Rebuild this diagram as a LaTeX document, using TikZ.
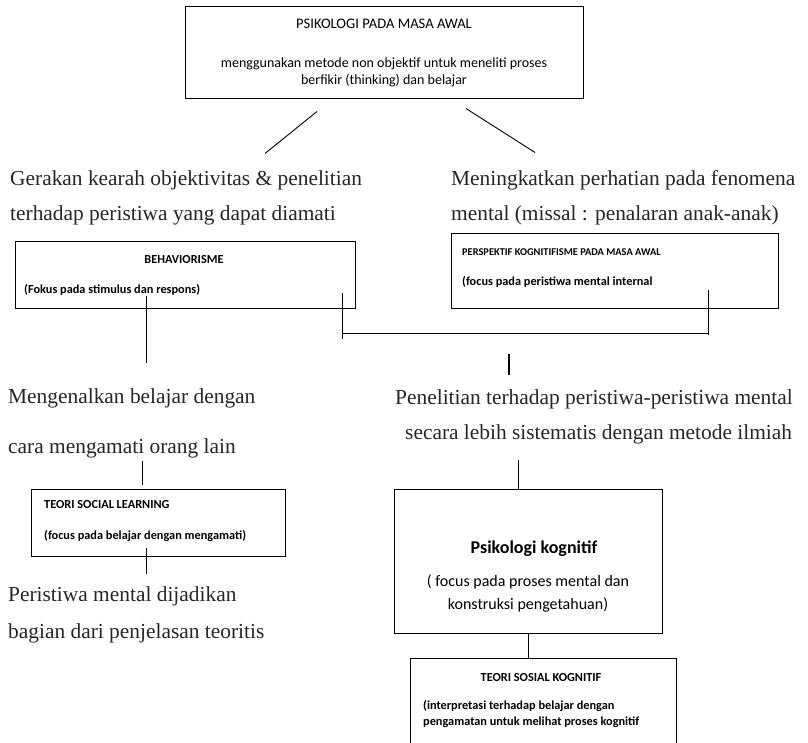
\documentclass[tikz,border=0pt]{standalone}
\usepackage{fontspec}
\setmainfont{Carlito}
\newfontfamily\txtfont{Liberation Serif}
\usetikzlibrary{positioning, calc}

\begin{document}
\begin{tikzpicture}[
    x=1pt, y=-1pt,
    every node/.style={inner sep=0pt},
    box/.style  ={draw, line width=1pt},
    head/.style ={font=\fontsize{12.3}{15}\selectfont\bfseries},
    note/.style ={font=\fontsize{12.3}{15.5}\selectfont\bfseries, align=left, anchor=base west},
    body/.style ={font=\fontsize{14}{17}\selectfont, align=center},
    txt/.style  ={font=\txtfont\fontsize{21.4}{35}\selectfont, text=black!85,
                  align=left, anchor=base west},
    link/.style ={line width=0.9pt},
]
\clip (0,0) rectangle (808,743);

% awal
\node[box, body, minimum width=398, minimum height=92] (awal) at (384,53)
   {{\fontsize{14.6}{17}\selectfont PSIKOLOGI PADA MASA AWAL}\\[22pt]
    menggunakan metode non objektif untuk meneliti proses\\
    berfikir (thinking) dan belajar};
% base = baseline of the last line
\node[txt] (gerak) at (10,221)
   {Gerakan kearah objektivitas \& penelitian\\terhadap peristiwa yang dapat diamati};
\node[txt] (mening) at (451,221)
   {Meningkatkan perhatian pada fenomena\\mental (missal : penalaran anak-anak)};
\draw[link] ([shift={(-67,12)}]awal.south) -- ++(-52,42);
\draw[link] ([shift={(82,9)}]awal.south) -- ++(69,44);

% behaviorisme dan kognitifisme awal
\node[box, minimum width=340, minimum height=66] (beh) at (185,275) {};
\node[head] (behT) at (184,260) {BEHAVIORISME};
\node[note] (behN) at (24,293) {(Fokus pada stimulus dan respons)};
\node[box, minimum width=327, minimum height=74] (persp) at (614.5,271) {};
\node[note, font=\fontsize{10.4}{13}\selectfont\bfseries] (perT) at (462,256)
   {PERSPEKTIF KOGNITIFISME PADA MASA AWAL};
\node[note] (perN) at (462,285) {(focus pada peristiwa mental internal};

% kiri: social learning
\node[txt] (kenal) at (8,453)
   {Mengenalkan belajar dengan\\[15pt]cara mengamati orang lain};
\node[box, minimum width=254, minimum height=67] (sl) at (158,522.5) {};
\node[note] (slT) at (44,508) {TEORI SOCIAL LEARNING};
\node[note] (slN) at (44,539) {(focus pada belajar dengan mengamati)};
\node[txt] (peri) at (8,638)
   {Peristiwa mental dijadikan\\[2pt]bagian dari penjelasan teoritis};

% kanan: psikologi kognitif
\node[txt] (teliti) at (395,439)
   {Penelitian terhadap peristiwa-peristiwa mental\\\hspace*{10pt}secara lebih sistematis dengan metode ilmiah};
\node[box, minimum width=268, minimum height=144] (kog) at (528,561) {};
\node[font=\fontsize{18}{22}\selectfont\bfseries, anchor=base] (kogT) at (534,553) {Psikologi kognitif};
\node[font=\fontsize{16}{23}\selectfont, align=center, anchor=base] (kogN) at (528,609)
   {( focus pada proses mental dan\\konstruksi pengetahuan)};
\node[box, minimum width=266, minimum height=102] (sk) at (543,709) {};
\node[head, anchor=base] (skT) at (541,681) {TEORI SOSIAL KOGNITIF};
\node[note, font=\fontsize{12.3}{16}\selectfont\bfseries] (skN) at (423,725)
   {(interpretasi terhadap belajar dengan\\pengamatan untuk melihat proses kognitif};

% penghubung
\coordinate (behDown) at (146,363);
\coordinate (brL) at (342,333);
\coordinate (brR) at (708,333);
\coordinate (brMid) at (509,354);
\coordinate (kenalDown) at (142,485);
\coordinate (slDown) at (146,574);
\draw[link, shorten <=1] (behN.south -| behDown) -- (behDown);
\draw[link] ([shift={(-13,18)}]beh.east) -- ++(0,46);
\draw[link] ([shift={(-70,19)}]persp.east) -- ++(0,45);
\draw[link] (brL) -- (brR);
\draw[line width=2pt] (brMid) -- ++(0,21);
\draw[link, shorten <=3] (kenal.south -| kenalDown) -- (kenalDown);
\draw[link, shorten <=7] (slN.south -| slDown) -- (slDown);
\draw[link] ([xshift=-10]kog.north) -- ++(0,-29);
\draw[link] (kog.south) -- (kog.south |- sk.north);
\end{tikzpicture}
\end{document}
